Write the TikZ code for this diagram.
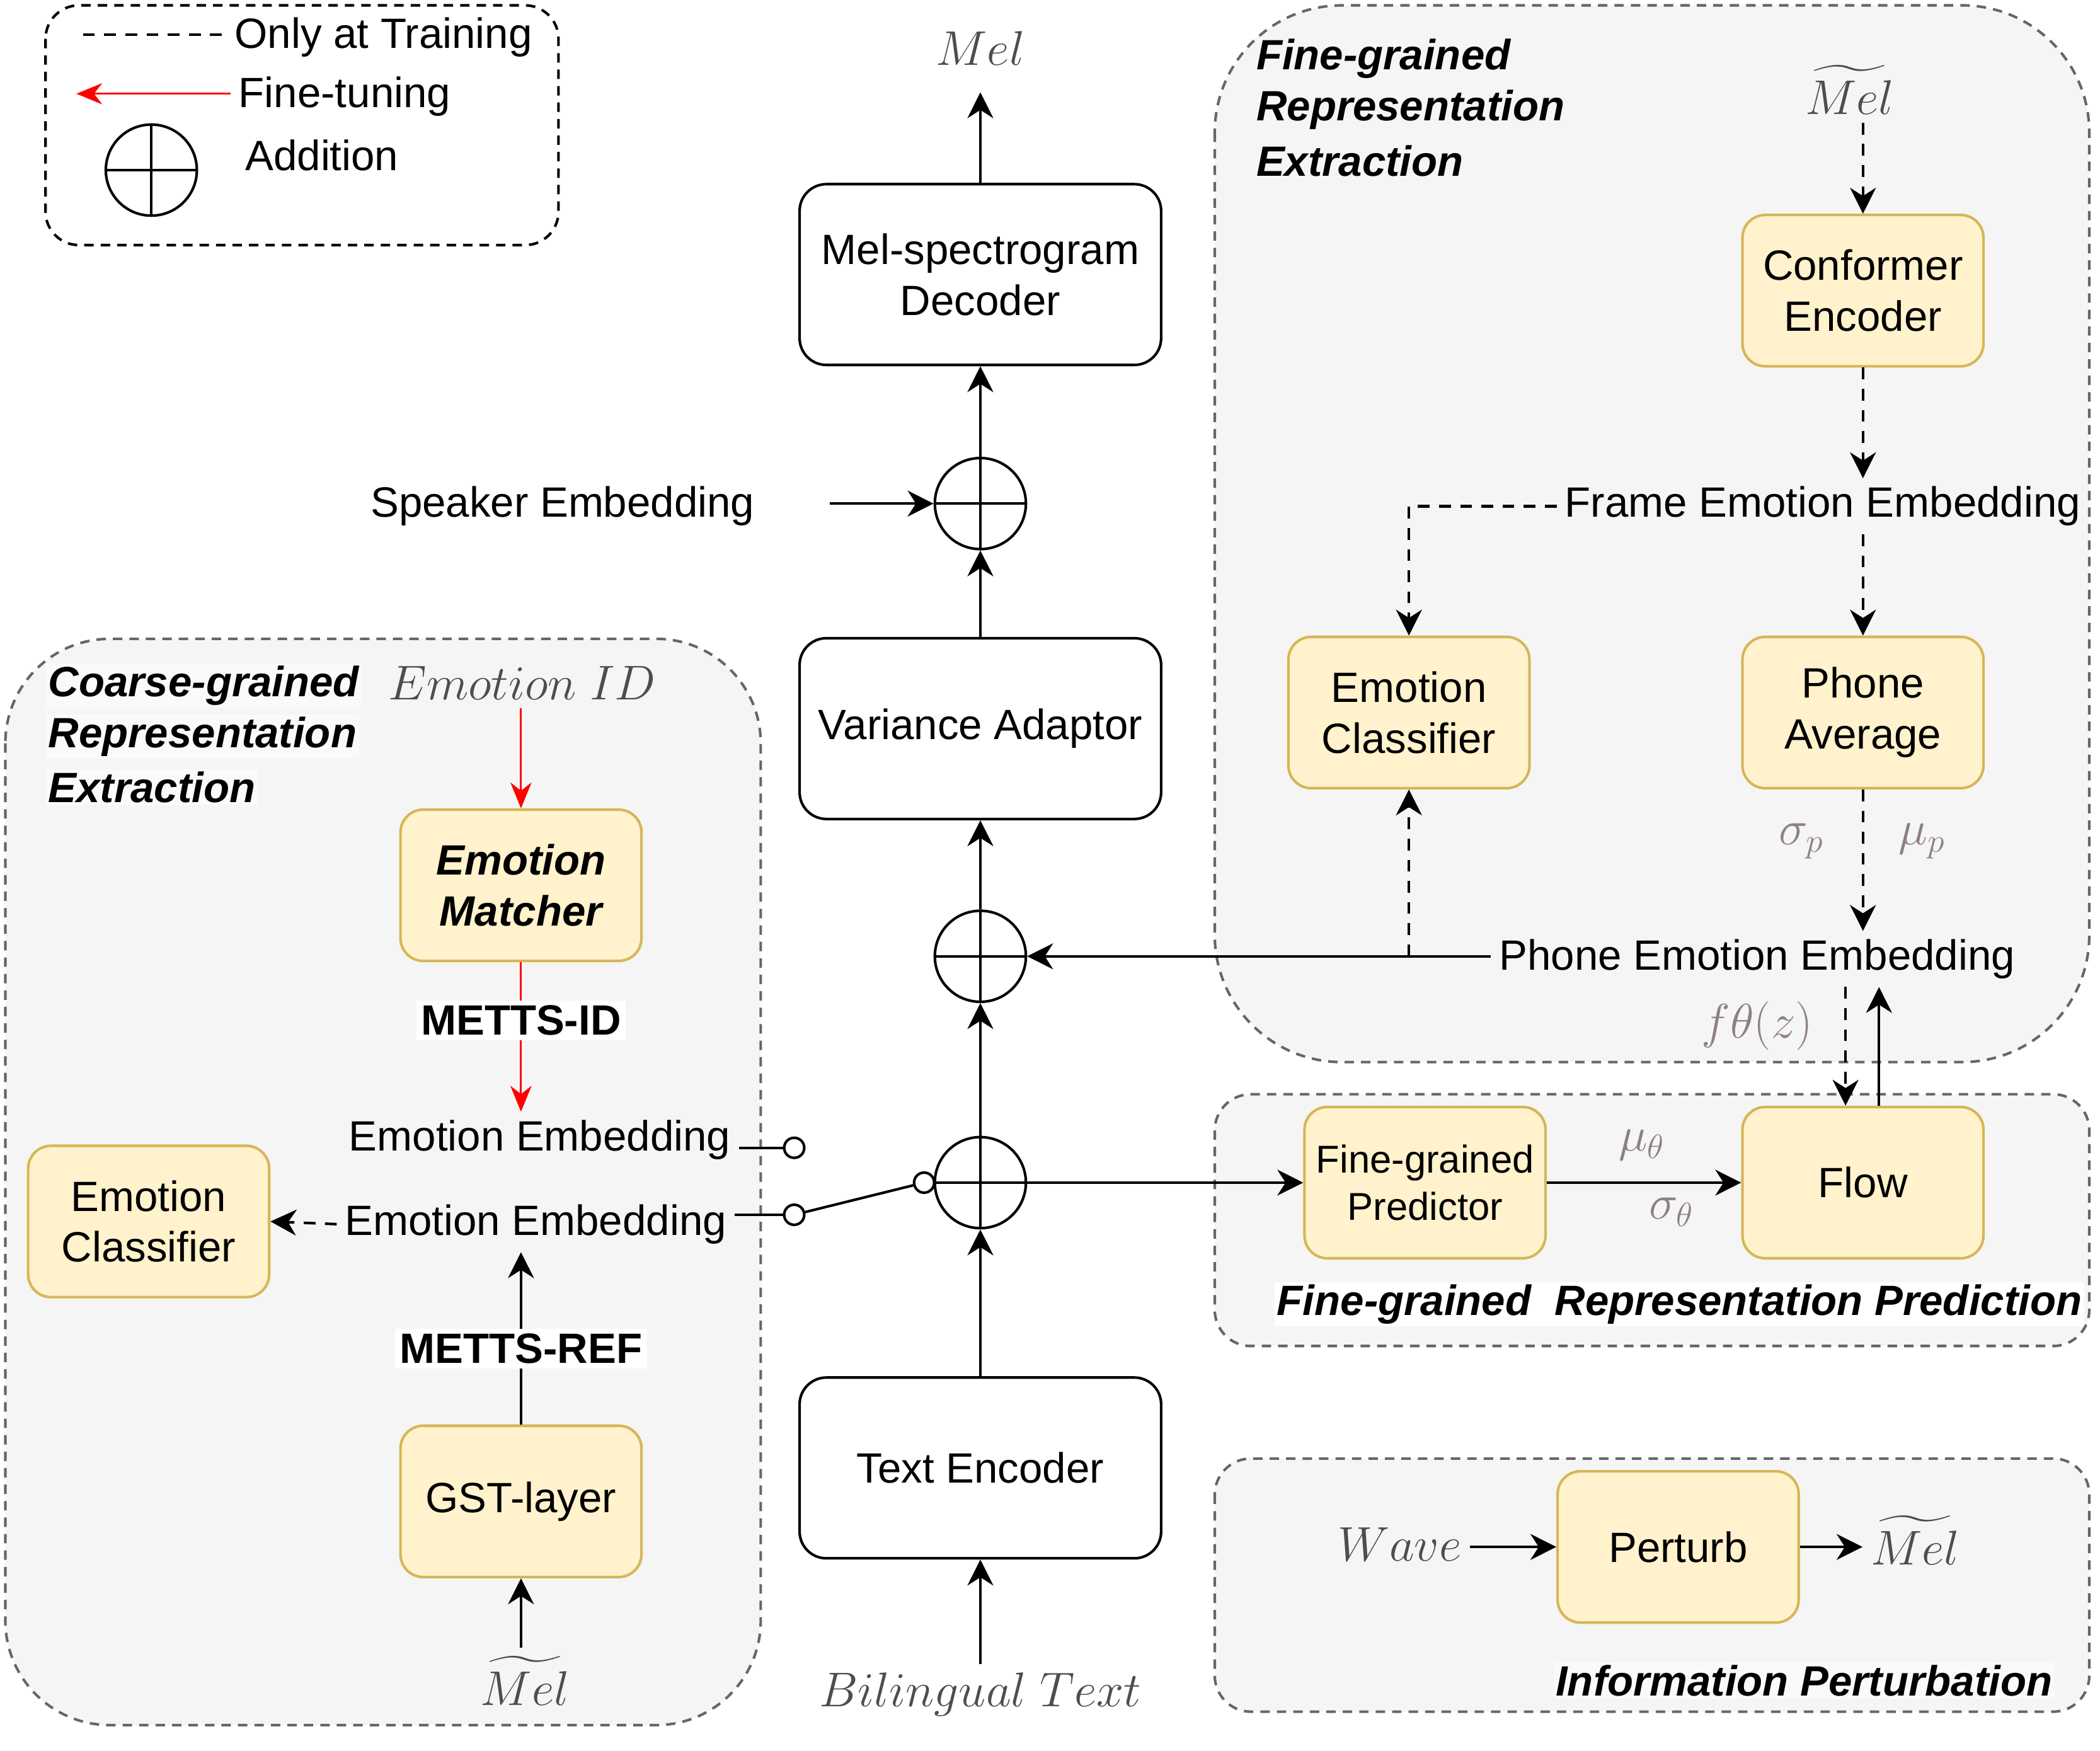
\documentclass[tikz,border=0pt]{standalone}
\usepackage{exscale}
\usepackage{fontspec}
\setmainfont{Liberation Sans}
\usetikzlibrary{arrows.meta, positioning}
\definecolor{boxfill}{HTML}{FFF2CC}
\definecolor{boxline}{HTML}{D6B656}
\definecolor{groupfill}{HTML}{F5F5F5}
\definecolor{groupline}{HTML}{666666}
\definecolor{titlebg}{HTML}{FAFAFA}
\definecolor{mathgray}{HTML}{4D4D4D}
\definecolor{paramgray}{HTML}{8F8080}
\tikzset{
    every node/.style={font=\fontsize{18}{21.6}\selectfont},
    group/.style={draw=groupline, fill=groupfill, line width=1.1pt,
        dash pattern=on 4pt off 3pt},
    legendbox/.style={draw, fill=white, line width=1.1pt,
        dash pattern=on 4pt off 3pt, rounded corners=0.5cm},
    block/.style={draw, fill=white, rounded corners=0.4cm, line width=1.1pt,
        minimum width=5.4cm, minimum height=2.7cm, align=center},
    yblock/.style={draw=boxline, fill=boxfill, rounded corners=0.34cm,
        line width=1.1pt, minimum width=3.6cm, minimum height=2.26cm,
        align=center},
    addnode/.style={circle, draw, line width=1.1pt, minimum size=1.36cm,
        inner sep=0pt, path picture={
            \draw[line width=1.1pt] (path picture bounding box.north) --
                (path picture bounding box.south)
                (path picture bounding box.west) --
                (path picture bounding box.east);
        }},
    switch/.style={circle, draw, fill=white, line width=1.1pt,
        minimum size=0.3cm, inner sep=0pt},
    mathlbl/.style={text=mathgray, font=\fontsize{21}{25}\selectfont},
    paramlbl/.style={text=paramgray, font=\fontsize{21}{25}\selectfont},
    title/.style={font=\fontsize{18}{21.6}\selectfont\bfseries\itshape,
        inner sep=1pt},
    tag/.style={font=\fontsize{18}{21.6}\selectfont\bfseries, fill=white,
        text=black, inner sep=2pt},
    wire/.style={line width=1.1pt},
    arr/.style={-{Stealth[length=11pt, width=11pt, inset=3.5pt]},
        line width=1.1pt},
    darr/.style={arr, dash pattern=on 5pt off 4pt},
    rarr/.style={-{Stealth[length=11pt, width=9pt, inset=3.5pt]}, red,
        line width=0.8pt},
}

\begin{document}
\begin{tikzpicture}[x=0.02cm, y=-0.02cm]
    \useasboundingbox (0,0) rectangle (1568,1307);

    % groups
    \draw[legendbox] (34,4) rectangle (417,183);
    \draw[group, rounded corners=1.56cm] (4,477) rectangle (568,1288);
    \draw[group, rounded corners=1.9cm] (907,4) rectangle (1560,793);
    \draw[group, rounded corners=0.54cm] (907,817) rectangle (1560,1005);
    \draw[group, rounded corners=0.54cm] (907,1089) rectangle (1560,1278);

    % legend
    \node[anchor=west] (lgdash) at (169,28) {Only at Training};
    \coordinate (lgdashend) at (62,26);
    \draw[wire, dash pattern=on 5pt off 4pt] (lgdashend) -- (lgdash.west |- lgdashend);
    \node[anchor=west] (lgft) at (172,72) {Fine-tuning};
    \coordinate (lgftend) at (57,70);
    \draw[rarr] (lgft.west |- lgftend) -- (lgftend);
    \node[addnode] (lgadd) at (113,127) {};
    \node[anchor=west] (lgaddtxt) at (177,116) {Addition};

    % backbone
    \node[mathlbl] (melout) at (732,36) {$Mel$};
    \node[block] (dec) at (732,205) {Mel-spectrogram\\Decoder};
    \node[addnode] (addspk) at (732,376) {};
    \node (spk) at (420,378) {Speaker Embedding};
    \node[block] (va) at (732,544) {Variance Adaptor};
    \node[addnode] (addemo) at (732,714) {};
    \node[addnode] (addcoarse) at (732,883) {};
    \node[block] (te) at (732,1096) {Text Encoder};
    \node[mathlbl] (bil) at (732,1265) {$Bilingual\ Text$};

    \draw[arr, shorten >=8pt] (dec.north) -- (melout.south);
    \draw[arr] (addspk.north) -- (dec.south);
    \draw[arr, shorten <=1cm] (addspk.west -| spk.east) -- (addspk.west);
    \draw[arr] (va.north) -- (addspk.south);
    \draw[arr] (addemo.north) -- (va.south);
    \draw[arr] (addcoarse.north) -- (addemo.south);
    \draw[arr] (te.north) -- (addcoarse.south);
    \draw[arr] (te.south |- bil.north) -- (te.south);

    % coarse-grained
    \node[title, anchor=west, fill=titlebg] (ctitle1) at (34,512) {Coarse-grained};
    \node[title, anchor=west, fill=titlebg] (ctitle2) at (34,550) {Representation};
    \node[title, anchor=west, fill=titlebg] (ctitle3) at (34,588) {Extraction};
    \node[mathlbl] (eid) at (390,510) {$Emotion\ ID$};
    \node[yblock, font=\fontsize{18}{21.6}\selectfont\bfseries\itshape]
        (matcher) at (389,661) {Emotion\\Matcher};
    \node (ee1) at (403,851) {Emotion Embedding};
    \node (ee2) at (400,914) {Emotion Embedding};
    \node[yblock] (cls1) at (111,912) {Emotion\\Classifier};
    \node[yblock] (gst) at (389,1121) {GST-layer};
    \node[mathlbl] (melgst) at (392,1255) {$\widetilde{Mel}$};
    \node[switch] (sw1) at (593,857) {};
    \node[switch] (sw2) at (593,907) {};
    \node[switch] (sw3) at (690,883) {};

    \draw[rarr] (matcher.north |- eid.south) -- (matcher.north);
    \draw[rarr] (matcher.south) -- (matcher.south |- ee1.north)
        node[tag, pos=0.39] {METTS-ID};
    \draw[wire] (sw1.west) -- (sw1.west -| ee1.east);
    \draw[wire] (sw2.west) -- (sw2.west -| ee2.east);
    \draw[wire] (sw2) -- (sw3);
    \draw[darr] (ee2.west) -- (cls1.east);
    \draw[arr] (gst.north) -- (gst.north |- ee2.south)
        node[tag, pos=0.44] {METTS-REF};
    \draw[arr] (gst.south |- melgst.north) -- (gst.south);

    % fine-grained extraction
    \node[title, anchor=west] (ftitle1) at (936,44) {Fine-grained};
    \node[title, anchor=west] (ftitle2) at (936,82) {Representation};
    \node[title, anchor=west] (ftitle3) at (936,120) {Extraction};
    \node[mathlbl] (melconf) at (1381,67) {$\widetilde{Mel}$};
    \node[yblock] (conf) at (1391,217) {Conformer\\Encoder};
    \node (fee) at (1361,378) {Frame Emotion Embedding};
    \node[yblock] (cls2) at (1052,532) {Emotion\\Classifier};
    \node[yblock] (pavg) at (1391,532) {Phone\\Average};
    \node[paramlbl] (sigp) at (1345,628) {$\sigma_p$};
    \node[paramlbl] (mup) at (1435,628) {$\mu_p$};
    \node (pee) at (1312,716) {Phone Emotion Embedding};
    \node[paramlbl] (fz) at (1312,766) {$f\theta(z)$};

    \draw[darr] (conf.north |- melconf.south) -- (conf.north);
    \draw[darr] (conf.south) -- (conf.south |- fee.north);
    \draw[darr] (fee.west) -| (cls2.north);
    \draw[darr] (pavg.north |- fee.south) -- (pavg.north);
    \draw[darr] (pavg.south) -- (pavg.south |- pee.north);
    \draw[arr] (addemo.east -| pee.west) -- (addemo.east);
    \draw[darr] (cls2.south |- addemo.east) -- (cls2.south);

    % fine-grained prediction
    \node[yblock, font=\fontsize{16.5}{20}\selectfont] (pred) at (1064,883)
        {Fine-grained\\Predictor};
    \node[yblock] (flow) at (1391,883) {Flow};
    \node[paramlbl] (mut) at (1226,855) {$\mu_\theta$};
    \node[paramlbl] (sigt) at (1248,905) {$\sigma_\theta$};
    \node[title, fill=white] (ptitle) at (1254,974)
        {Fine-grained\ \ Representation Prediction};
    \coordinate (flowin) at ([xshift=-0.26cm]flow.north);
    \coordinate (flowout) at ([xshift=0.24cm]flow.north);

    \draw[arr] (addcoarse.east) -- (pred.west);
    \draw[arr] (pred.east) -- (flow.west);
    \draw[darr] (flowin |- pee.south) -- (flowin);
    \draw[arr] (flowout) -- (flowout |- pee.south);

    % perturbation
    \node[mathlbl] (wave) at (1045,1153) {$Wave$};
    \node[yblock] (pert) at (1253,1155) {Perturb};
    \node[mathlbl] (melpert) at (1430,1150) {$\widetilde{Mel}$};
    \node[title, fill=titlebg] (ititle) at (1347,1255) {Information Perturbation};

    \draw[arr] (pert.west -| wave.east) -- (pert.west);
    \draw[arr] (pert.east) -- (pert.east -| melpert.west);
\end{tikzpicture}
\end{document}
